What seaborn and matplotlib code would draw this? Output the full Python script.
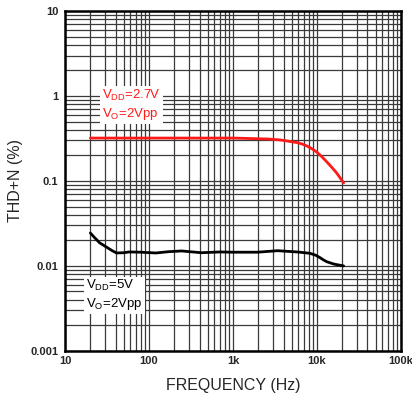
import matplotlib
matplotlib.use("Agg")
import matplotlib.pyplot as plt
import seaborn as sns
import pandas as pd
import numpy as np

# data
freq_27 = [20, 100, 500, 1000, 2600, 3670, 5800, 6700, 7600, 8700, 10000, 11500, 13100, 15000, 17200, 20800]
thd_27 = [0.32, 0.32, 0.32, 0.32, 0.312, 0.304, 0.283, 0.272, 0.258, 0.24, 0.218, 0.192, 0.168, 0.145, 0.124, 0.095]
freq_5 = [20, 22, 25.8, 31, 36, 41, 50, 58, 80, 121, 170, 244, 420, 700, 1000, 1950, 3400, 5800, 8200, 9600, 10900, 11900, 13100, 16000, 20800]
thd_5 = [0.0244, 0.022, 0.0187, 0.0167, 0.0152, 0.0142, 0.0143, 0.0146, 0.0145, 0.0142, 0.0147, 0.0150, 0.0143, 0.0146, 0.0145, 0.0145, 0.0151, 0.0146, 0.0141, 0.0134, 0.0125, 0.0118, 0.0112, 0.0105, 0.0100]
x_ticks = [10, 100, 1000, 10000, 100000]
x_labels = ["10", "100", "1k", "10k", "100k"]
y_ticks = [0.001, 0.01, 0.1, 1, 10]
y_labels = ["0.001", "0.01", "0.1", "1", "10"]

sns.set_style("white")
plt.rcParams['font.family'] = ['Liberation Sans', 'DejaVu Sans']
plt.rcParams['mathtext.fontset'] = 'custom'
plt.rcParams['mathtext.rm'] = 'Liberation Sans'

fig = plt.figure(figsize=(4.12, 3.96), dpi=100)
ax = fig.add_axes([0.158, 0.114, 0.815, 0.858])

df1 = pd.DataFrame({"f": freq_27, "thd": thd_27})
df2 = pd.DataFrame({"f": freq_5, "thd": thd_5})
sns.lineplot(data=df1, x="f", y="thd", ax=ax, color="#ff1a1a", lw=2, zorder=3)
sns.lineplot(data=df2, x="f", y="thd", ax=ax, color="black", lw=2, zorder=3)

ax.set_xscale("log")
ax.set_yscale("log")
ax.set_xlim(10, 100000)
ax.set_ylim(0.001, 10)
ax.set_xticks(x_ticks)
ax.set_xticklabels(x_labels, fontsize=8, fontweight="bold")
ax.set_yticks(y_ticks)
ax.set_yticklabels(y_labels, fontsize=8, fontweight="bold")
ax.xaxis.set_minor_locator(matplotlib.ticker.LogLocator(base=10, subs=np.arange(2, 10)))
ax.yaxis.set_minor_locator(matplotlib.ticker.LogLocator(base=10, subs=np.arange(2, 10)))
ax.xaxis.set_minor_formatter(matplotlib.ticker.NullFormatter())
ax.yaxis.set_minor_formatter(matplotlib.ticker.NullFormatter())
ax.grid(True, which="both", color="#3a3a3a", lw=0.9)
ax.tick_params(axis="both", which="minor", length=0)
ax.tick_params(axis="y", which="major", length=4, width=1, color="black", pad=1)
ax.tick_params(axis="x", which="major", length=0, pad=4)
for s in ax.spines.values():
    s.set_color("black")
    s.set_linewidth(1.8)

ax.set_xlabel("FREQUENCY (Hz)", fontsize=11.5, labelpad=8)
ax.set_ylabel("THD+N (%)", fontsize=11.5, labelpad=5)

box = dict(facecolor="white", edgecolor="none", pad=1.5)
ax.text(0.111, 0.775, "V$_{\\mathregular{DD}}$=2.7V\nV$_{\\mathregular{O}}$=2Vpp", transform=ax.transAxes,
        color="#ff1a1a", fontsize=9.5, va="top", ha="left", bbox=box, linespacing=1.3, zorder=4)
ax.text(0.062, 0.215, "V$_{\\mathregular{DD}}$=5V\nV$_{\\mathregular{O}}$=2Vpp", transform=ax.transAxes,
        color="black", fontsize=9.5, va="top", ha="left", bbox=box, linespacing=1.3, zorder=4)

fig.savefig("out.png", dpi=100)
